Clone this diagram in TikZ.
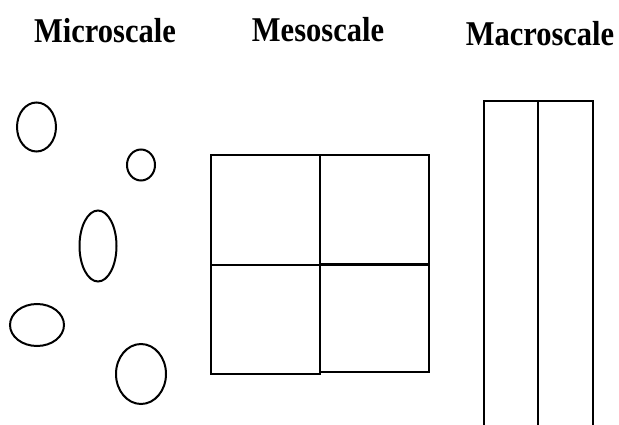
\documentclass[tikz,border=0pt]{standalone}
\usepackage{fontspec}
\setmainfont{Liberation Serif}
\begin{document}
\begin{tikzpicture}[x=1pt,y=-1pt,
  shape line/.style={draw=black,line width=2pt},
  title/.style={anchor=base,inner sep=0pt,font=\fontsize{30.5}{34}\selectfont\bfseries,yscale=1.14}]
\useasboundingbox (0,0) rectangle (619,425);
\fill[white] (0,0) rectangle (619,425);
% titles
\node[title] (micro) at (105,43) {Microscale};
\node[title] (meso) at (318,41.5) {Mesoscale};
\node[title] (macro) at (540,45.5) {Macroscale};
% micro particles
\draw[shape line] (36.5,127) ellipse [x radius=19.5, y radius=24.5];
\draw[shape line] (141,165) ellipse [x radius=14, y radius=15.5];
\draw[shape line] (98,246) ellipse [x radius=18.5, y radius=35.5];
\draw[shape line] (37,325) ellipse [x radius=27, y radius=21];
\draw[shape line] (141,374) ellipse [x radius=25, y radius=30];
% meso grid
\draw[shape line] (211,155) rectangle (320,265);
\draw[shape line] (320,155) rectangle (429,264);
\draw[shape line] (211,265) rectangle (320,374);
\draw[shape line] (320,265) rectangle (429,372);
\draw[draw=black,line width=2.8pt] (320,264.5) -- (429,264.5);
% macro slab
\draw[shape line] (484,430) -- (484,101) -- (593,101) -- (593,430);
\draw[shape line] (538,101) -- (538,430);
\end{tikzpicture}
\end{document}
